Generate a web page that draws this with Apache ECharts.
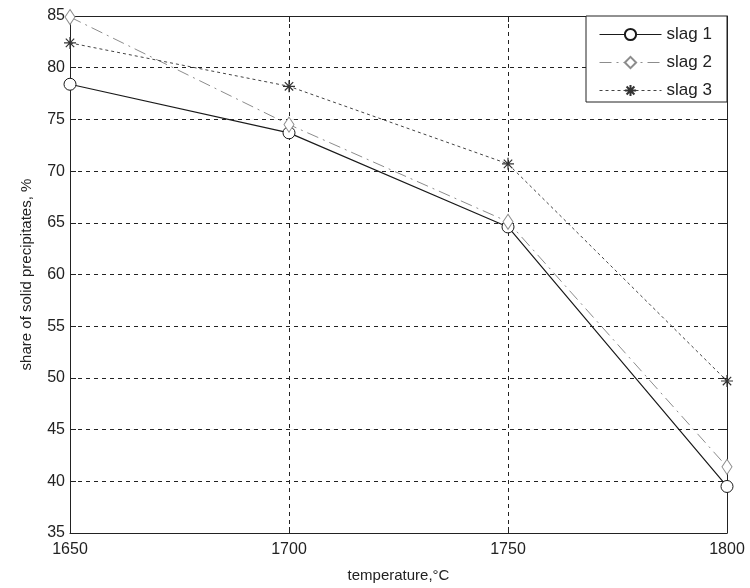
<!DOCTYPE html>
<html>
<head>
<meta charset="utf-8">
<script src="https://cdn.jsdelivr.net/npm/echarts@6/dist/echarts.min.js"></script>
<style>
    html, body { margin: 0; padding: 0; background: #fff; }
    #chart { width: 750px; height: 588px; }
</style>
</head>
<body>
<div id="chart"></div>
<script>
const temperatures = [1650, 1700, 1750, 1800];
const slag1 = [78.4, 73.7, 64.6, 39.5];
const slag2 = [84.9, 74.5, 65.1, 41.4];
const slag3 = [82.4, 78.2, 70.7, 49.7];
const seriesNames = ['slag 1', 'slag 2', 'slag 3'];

const FONT = 'Liberation Sans, Arial, sans-serif';
const starPath = 'path://M0,-10L0,10M-10,0L10,0M-7,-7L7,7M-7,7L7,-7';

const chart = echarts.init(document.getElementById('chart'));

function pairs(values) {
    return temperatures.map((t, i) => [t, values[i]]);
}

const gridDash = { color: '#222', width: 1, type: [4, 4] };

chart.setOption({
    animation: false,
    backgroundColor: '#fff',
    grid: { left: 70, right: 23, top: 16, bottom: 54 },
    graphic: [
        {
            type: 'rect',
            z: 10,
            shape: { x: 586, y: 16, width: 141, height: 86 },
            style: { fill: '#fff', stroke: '#222', lineWidth: 1 }
        }
    ],
    legend: {
        z: 11,
        orient: 'vertical',
        left: 594,
        top: 21,
        itemWidth: 62,
        itemHeight: 14,
        itemGap: 11,
        data: seriesNames,
        lineStyle: { width: 1 },
        textStyle: { fontFamily: FONT, fontSize: 17, color: '#222' }
    },
    xAxis: [
        {
            type: 'value',
            min: 1650,
            max: 1800,
            interval: 50,
            name: 'temperature,°C',
            nameLocation: 'middle',
            nameGap: 35,
            nameTextStyle: { fontFamily: FONT, fontSize: 15, color: '#222' },
            axisLine: { show: true, lineStyle: { color: '#222', width: 1 } },
            axisTick: { show: true, inside: true, length: 6, lineStyle: { color: '#222' } },
            axisLabel: { fontFamily: FONT, fontSize: 16, color: '#222', margin: 9, formatter: (v) => String(v) },
            splitLine: { show: true, lineStyle: gridDash }
        },
        {
            type: 'value',
            position: 'top',
            min: 1650,
            max: 1800,
            interval: 50,
            axisLine: { show: true, lineStyle: { color: '#222', width: 1 } },
            axisTick: { show: true, inside: true, length: 6, lineStyle: { color: '#222' } },
            axisLabel: { show: false },
            splitLine: { show: false }
        }
    ],
    yAxis: [
        {
            type: 'value',
            min: 35,
            max: 85,
            interval: 5,
            name: 'share of solid precipitates, %',
            nameLocation: 'middle',
            nameGap: 36,
            nameTextStyle: { fontFamily: FONT, fontSize: 15, color: '#222' },
            axisLine: { show: true, lineStyle: { color: '#222', width: 1 } },
            axisTick: { show: true, inside: true, length: 6, lineStyle: { color: '#222' } },
            axisLabel: { fontFamily: FONT, fontSize: 16, color: '#222', margin: 5 },
            splitLine: { show: true, lineStyle: gridDash }
        },
        {
            type: 'value',
            position: 'right',
            min: 35,
            max: 85,
            interval: 5,
            axisLine: { show: true, lineStyle: { color: '#222', width: 1 } },
            axisTick: { show: true, inside: true, length: 6, lineStyle: { color: '#222' } },
            axisLabel: { show: false },
            splitLine: { show: false }
        }
    ],
    series: [
        {
            name: seriesNames[0],
            type: 'line',
            data: pairs(slag1),
            symbol: 'circle',
            symbolSize: 12,
            lineStyle: { color: '#1a1a1a', width: 1.2 },
            itemStyle: { color: '#fff', borderColor: '#1a1a1a', borderWidth: 1 }
        },
        {
            name: seriesNames[1],
            type: 'line',
            data: pairs(slag2),
            symbol: 'diamond',
            symbolSize: [10, 15],
            lineStyle: { color: '#8c8c8c', width: 1, type: [12, 5, 2, 5] },
            itemStyle: { color: '#fff', borderColor: '#8c8c8c', borderWidth: 1 }
        },
        {
            name: seriesNames[2],
            type: 'line',
            data: pairs(slag3),
            symbol: starPath,
            symbolSize: 12,
            lineStyle: { color: '#444', width: 1, type: [3, 3] },
            itemStyle: { color: 'none', borderColor: '#333', borderWidth: 1.2 }
        }
    ]
});
</script>
</body>
</html>
